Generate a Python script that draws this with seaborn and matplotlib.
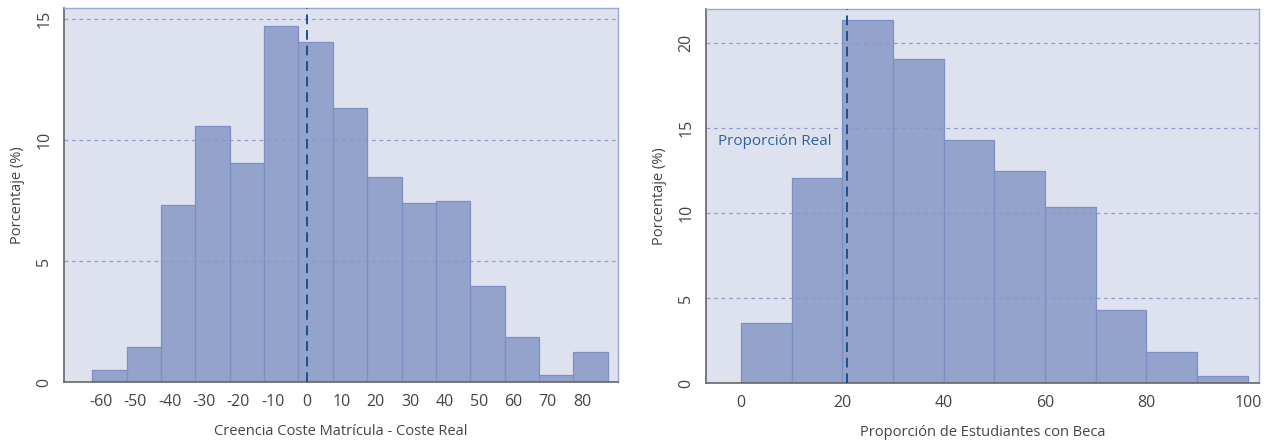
import numpy as np
import seaborn as sns
import matplotlib.pyplot as plt

# left panel: belief minus real tuition cost, bins of width 10
coste_edges = [-62.5, -52.5, -42.5, -32.5, -22.5, -12.5, -2.5, 7.5, 17.5,
               27.5, 37.5, 47.5, 57.5, 67.5, 77.5, 87.5]
coste_pct = [0.48, 1.43, 7.33, 10.57, 9.04, 14.70, 14.06, 11.33, 8.46,
             7.39, 7.46, 3.96, 1.86, 0.28, 1.24]
coste_ticks = [-60, -50, -40, -30, -20, -10, 0, 10, 20, 30, 40, 50, 60, 70, 80]
coste_real = 0

# right panel: believed share of students with grant
beca_edges = [0, 10, 20, 30, 40, 50, 60, 70, 80, 90, 100]
beca_pct = [3.51, 12.05, 21.33, 19.04, 14.28, 12.48, 10.37, 4.31, 1.82, 0.43]
beca_ticks = [0, 20, 40, 60, 80, 100]
beca_real = 21

sns.set_style('white')
plt.rcParams['font.family'] = ['Open Sans', 'DejaVu Sans']
plt.rcParams['axes.unicode_minus'] = False

bg = '#dee1ee'
bar_col = '#8798c5'
edge_col = '#7e8fc6'
grid_col = '#8d9dd2'
line_col = '#1f4f8e'
text_col = '#444444'

fig = plt.figure(figsize=(12.71, 4.42), dpi=100)
ax1 = fig.add_axes([0.0504, 0.1357, 0.4359, 0.846])
ax2 = fig.add_axes([0.5555, 0.1335, 0.4350, 0.846])


def panel(ax, edges, pct, ticks, real, xlim, ylim, yticks, xlabel):
    centers = [(edges[i] + edges[i + 1]) / 2 for i in range(len(pct))]
    ax.set_facecolor(bg)
    sns.histplot(x=centers, weights=pct, bins=edges, ax=ax, color=bar_col,
                 alpha=0.85, edgecolor=edge_col, linewidth=0.9, zorder=2)
    for yv in yticks[1:]:
        ax.axhline(yv, color=grid_col, lw=0.9, ls=(0, (3, 3)), zorder=1)
    ax.axvline(real, color=line_col, lw=1.4, ls=(0, (5, 3)), zorder=3)
    ax.set_xlim(*xlim)
    ax.set_ylim(*ylim)
    ax.set_xticks(ticks)
    ax.set_yticks(yticks)
    ax.set_yticklabels([str(v) for v in yticks], rotation=90, va='center')
    ax.tick_params(axis='both', direction='out', length=5, width=1,
                   color='#555555', labelcolor=text_col, labelsize=11.5)
    ax.set_xlabel(xlabel, fontsize=10.5, color=text_col, labelpad=10)
    ax.set_ylabel('Porcentaje (%)', fontsize=10.5, color=text_col, labelpad=8)
    for s in ['left', 'bottom']:
        ax.spines[s].set_color('#666666')
        ax.spines[s].set_linewidth(1.2)
    for s in ['top', 'right']:
        ax.spines[s].set_color('#9aa8d4')
        ax.spines[s].set_linewidth(1.0)


panel(ax1, coste_edges, coste_pct, coste_ticks, coste_real,
      (-70.7, 90.5), (0, 15.45), [0, 5, 10, 15],
      'Creencia Coste Matrícula - Coste Real')
panel(ax2, beca_edges, beca_pct, beca_ticks, beca_real,
      (-6.9, 102.2), (0, 22.0), [0, 5, 10, 15, 20],
      'Proporción de Estudiantes con Beca')

ax2.text(-4.5, 14.2, 'Proporción Real', color='#2d62a3', fontsize=11,
         va='center', ha='left')

fig.savefig('out.png', dpi=100)
